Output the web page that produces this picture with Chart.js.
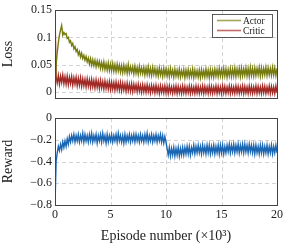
<!DOCTYPE html>
<html>
<head>
<meta charset="utf-8">
<script src="https://cdn.jsdelivr.net/npm/chart.js@4/dist/chart.umd.min.js"></script>
<style>
  html, body { margin: 0; padding: 0; background: #fff; }
  #wrap { position: relative; width: 288px; height: 248px; }
  #lossChart { position: absolute; left: 0; top: 0; }
  #rewardChart { position: absolute; left: 0; top: 108px; }
</style>
</head>
<body>
<div id="wrap">
  <canvas id="lossChart" width="288" height="108"></canvas>
  <canvas id="rewardChart" width="288" height="140"></canvas>
</div>
<script>
// samples every 100 episodes, 0 .. 20 (x10^3)
const sampleStep = 0.1;

const actorLoss = [
  0.002, 0.050, 0.072, 0.090, 0.104, 0.114, 0.122, 0.104, 0.109, 0.105,
  0.107, 0.098, 0.100, 0.091, 0.094, 0.085, 0.089, 0.079, 0.083, 0.074,
  0.078, 0.068, 0.074, 0.064, 0.071, 0.061, 0.067, 0.058, 0.065, 0.055,
  0.062, 0.051, 0.061, 0.049, 0.059, 0.048, 0.058, 0.046, 0.057, 0.047,
  0.056, 0.043, 0.054, 0.042, 0.055, 0.041, 0.052, 0.040, 0.053, 0.039,
  0.051, 0.039, 0.052, 0.038, 0.050, 0.037, 0.051, 0.038, 0.049, 0.036,
  0.048, 0.035, 0.049, 0.036, 0.047, 0.034, 0.050, 0.035, 0.046, 0.036,
  0.046, 0.033, 0.047, 0.034, 0.045, 0.032, 0.047, 0.034, 0.044, 0.033,
  0.045, 0.031, 0.044, 0.032, 0.046, 0.031, 0.043, 0.030, 0.045, 0.032,
  0.043, 0.030, 0.042, 0.029, 0.044, 0.031, 0.041, 0.028, 0.043, 0.030,
  0.042, 0.029, 0.041, 0.028, 0.043, 0.030, 0.040, 0.027, 0.042, 0.029,
  0.040, 0.028, 0.042, 0.027, 0.039, 0.029, 0.041, 0.026, 0.040, 0.028,
  0.041, 0.027, 0.039, 0.028, 0.042, 0.026, 0.040, 0.028, 0.039, 0.027,
  0.040, 0.026, 0.041, 0.028, 0.039, 0.027, 0.042, 0.028, 0.040, 0.026,
  0.041, 0.028, 0.040, 0.027, 0.042, 0.029, 0.041, 0.028, 0.043, 0.029,
  0.041, 0.028, 0.043, 0.029, 0.042, 0.027, 0.041, 0.029, 0.043, 0.028,
  0.042, 0.029, 0.044, 0.028, 0.042, 0.030, 0.043, 0.028, 0.044, 0.029,
  0.042, 0.030, 0.044, 0.029, 0.043, 0.028, 0.045, 0.030, 0.043, 0.029,
  0.044, 0.030, 0.043, 0.031, 0.045, 0.029, 0.044, 0.030, 0.043, 0.031,
  0.045, 0.030, 0.044, 0.031, 0.043, 0.030, 0.045, 0.031, 0.044, 0.030,
  0.043
];

const criticLoss = [
  0.150, 0.028, 0.016, 0.030, 0.014, 0.029, 0.017, 0.031, 0.015, 0.028,
  0.014, 0.029, 0.013, 0.027, 0.015, 0.028, 0.012, 0.026, 0.014, 0.027,
  0.011, 0.025, 0.012, 0.026, 0.010, 0.024, 0.011, 0.023, 0.009, 0.024,
  0.010, 0.022, 0.008, 0.023, 0.009, 0.021, 0.007, 0.022, 0.008, 0.020,
  0.006, 0.021, 0.007, 0.019, 0.005, 0.020, 0.006, 0.018, 0.005, 0.019,
  0.004, 0.018, 0.005, 0.017, 0.003, 0.018, 0.004, 0.016, 0.003, 0.017,
  0.002, 0.016, 0.003, 0.015, 0.001, 0.016, 0.002, 0.014, 0.001, 0.015,
  0.000, 0.014, 0.002, 0.013, 0.000, 0.014, 0.001, 0.012, -0.001, 0.013,
  0.000, 0.012, -0.001, 0.013, 0.000, 0.011, -0.002, 0.012, 0.000, 0.011,
  -0.002, 0.012, -0.001, 0.010, -0.003, 0.011, -0.001, 0.010, -0.002, 0.011,
  -0.002, 0.010, -0.003, 0.011, -0.001, 0.009, -0.003, 0.010, -0.002, 0.011,
  -0.003, 0.010, -0.002, 0.009, -0.003, 0.011, -0.002, 0.010, -0.003, 0.009,
  -0.002, 0.011, -0.003, 0.010, -0.002, 0.009, -0.003, 0.011, -0.002, 0.010,
  -0.003, 0.009, -0.002, 0.011, -0.003, 0.010, -0.002, 0.009, -0.003, 0.011,
  -0.002, 0.010, -0.003, 0.009, -0.002, 0.011, -0.003, 0.010, -0.002, 0.009,
  -0.003, 0.011, -0.002, 0.010, -0.003, 0.009, -0.002, 0.011, -0.003, 0.010,
  -0.002, 0.009, -0.003, 0.011, -0.002, 0.010, -0.003, 0.009, -0.002, 0.011,
  -0.003, 0.010, -0.002, 0.009, -0.003, 0.011, -0.002, 0.010, -0.003, 0.009,
  -0.002, 0.011, -0.003, 0.010, -0.002, 0.009, -0.003, 0.011, -0.002, 0.010,
  -0.003, 0.009, -0.002, 0.011, -0.003, 0.010, -0.002, 0.009, -0.003, 0.011,
  -0.002
];

const reward = [
  -0.80, -0.40, -0.32, -0.26, -0.30, -0.24, -0.29, -0.22, -0.27, -0.21,
  -0.26, -0.19, -0.24, -0.17, -0.22, -0.16, -0.21, -0.15, -0.22, -0.16,
  -0.21, -0.15, -0.22, -0.16, -0.21, -0.14, -0.22, -0.15, -0.21, -0.16,
  -0.22, -0.15, -0.21, -0.14, -0.22, -0.16, -0.21, -0.15, -0.23, -0.16,
  -0.21, -0.15, -0.22, -0.14, -0.21, -0.16, -0.23, -0.15, -0.22, -0.16,
  -0.21, -0.15, -0.22, -0.16, -0.21, -0.15, -0.22, -0.14, -0.21, -0.16,
  -0.22, -0.16, -0.23, -0.15, -0.22, -0.16, -0.21, -0.15, -0.22, -0.16,
  -0.21, -0.15, -0.22, -0.15, -0.21, -0.16, -0.22, -0.15, -0.21, -0.16,
  -0.22, -0.15, -0.21, -0.14, -0.22, -0.16, -0.21, -0.15, -0.22, -0.16,
  -0.21, -0.15, -0.22, -0.16, -0.21, -0.15, -0.22, -0.16, -0.23, -0.17,
  -0.22, -0.28, -0.34, -0.27, -0.35, -0.28, -0.34, -0.27, -0.35, -0.28,
  -0.34, -0.27, -0.35, -0.28, -0.34, -0.27, -0.34, -0.27, -0.33, -0.26,
  -0.33, -0.26, -0.34, -0.27, -0.32, -0.25, -0.33, -0.26, -0.32, -0.25,
  -0.32, -0.26, -0.33, -0.25, -0.32, -0.26, -0.33, -0.25, -0.32, -0.25,
  -0.33, -0.26, -0.32, -0.25, -0.33, -0.26, -0.32, -0.25, -0.33, -0.25,
  -0.32, -0.25, -0.33, -0.26, -0.32, -0.25, -0.31, -0.24, -0.32, -0.25,
  -0.31, -0.24, -0.32, -0.25, -0.31, -0.24, -0.32, -0.25, -0.31, -0.24,
  -0.32, -0.24, -0.31, -0.25, -0.32, -0.24, -0.31, -0.25, -0.32, -0.25,
  -0.33, -0.25, -0.32, -0.26, -0.33, -0.25, -0.32, -0.25, -0.33, -0.26,
  -0.32, -0.25, -0.33, -0.26, -0.32, -0.25, -0.33, -0.26, -0.32, -0.25,
  -0.32
];

const xTicks = [0, 5, 10, 15, 20];
const lossTicks = [0, 0.05, 0.1, 0.15];
const rewardTicks = [-0.8, -0.6, -0.4, -0.2, 0];

const seriesLabels = ['Actor', 'Critic'];
const FONT = "'Liberation Serif', 'DejaVu Serif', serif";
const gridColor = '#c8c8c8';
const frameColor = '#444';

const toPoints = arr => arr.map((v, i) => ({ x: +(i * sampleStep).toFixed(1), y: v }));
const fmt = v => String(v).replace('-', '\u2212');

// dashed grid drawn under the data, at the scales' tick positions
const dashGridPlugin = {
  id: 'dashGrid',
  beforeDatasetsDraw(chart) {
    const { ctx, chartArea: a, scales } = chart;
    ctx.save();
    ctx.strokeStyle = gridColor;
    ctx.lineWidth = 0.8;
    ctx.setLineDash([4, 3]);
    scales.x.ticks.forEach(t => {
      const px = Math.round(scales.x.getPixelForValue(t.value)) + 0.5;
      ctx.beginPath(); ctx.moveTo(px, a.top); ctx.lineTo(px, a.bottom); ctx.stroke();
    });
    scales.y.ticks.forEach(t => {
      const py = Math.round(scales.y.getPixelForValue(t.value)) + 0.5;
      ctx.beginPath(); ctx.moveTo(a.left, py); ctx.lineTo(a.right, py); ctx.stroke();
    });
    ctx.restore();
  }
};

// frame around plot area
const framePlugin = {
  id: 'frame',
  afterDraw(chart) {
    const { ctx, chartArea: a } = chart;
    ctx.save();
    ctx.strokeStyle = frameColor;
    ctx.lineWidth = 1;
    ctx.strokeRect(Math.round(a.left) + 0.5, Math.round(a.top) + 0.5,
      Math.round(a.right - a.left), Math.round(a.bottom - a.top));
    ctx.restore();
  }
};

// boxed legend inside the loss plot (top right)
const legendPlugin = {
  id: 'boxLegend',
  afterDraw(chart, args, opts) {
    if (!opts.show) return;
    const { ctx, chartArea: a } = chart;
    const w = 60, h = 23;
    const x0 = Math.round(a.right) - 5 - w, y0 = Math.round(a.top) + 4;
    ctx.save();
    ctx.fillStyle = '#fff';
    ctx.fillRect(x0, y0, w, h);
    ctx.strokeStyle = '#333';
    ctx.lineWidth = 0.8;
    ctx.strokeRect(x0 + 0.5, y0 + 0.5, w, h);
    ctx.font = '9.5px ' + FONT;
    ctx.textBaseline = 'middle';
    chart.data.datasets.forEach((ds, i) => {
      const y = y0 + 6.5 + i * 10;
      ctx.strokeStyle = ds.legendColor;
      ctx.lineWidth = 1.6;
      ctx.beginPath();
      ctx.moveTo(x0 + 5, y);
      ctx.lineTo(x0 + 29, y);
      ctx.stroke();
      ctx.fillStyle = '#222';
      ctx.fillText(ds.label, x0 + 31, y + 0.5);
    });
    ctx.restore();
  }
};

function yAxis(ticks, min, max, title) {
  return {
    type: 'linear', min, max,
    afterFit: s => { s.width = 55; },
    afterBuildTicks: s => { s.ticks = ticks.map(v => ({ value: v })); },
    grid: { display: false, drawTicks: false },
    border: { display: false },
    ticks: { color: '#222', padding: 3, font: { family: FONT, size: 12 }, callback: v => fmt(v) },
    title: { display: true, text: title, color: '#222', font: { family: FONT, size: 14 }, padding: { top: 0, bottom: 0 } }
  };
}

function xAxis(showTicks) {
  return {
    type: 'linear', min: 0, max: 20,
    afterBuildTicks: s => { s.ticks = xTicks.map(v => ({ value: v })); },
    afterFit: s => { if (!showTicks) s.height = 0; },
    grid: { display: false, drawTicks: false },
    border: { display: false },
    ticks: { display: showTicks, color: '#222', padding: 3, maxRotation: 0, font: { family: FONT, size: 12 } },
    title: {
      display: showTicks, text: 'Episode number (\u00d710\u00b3)', color: '#222',
      font: { family: FONT, size: 14 }, padding: { top: 3, bottom: 0 }
    }
  };
}

const common = {
  responsive: false,
  animation: false,
  events: [],
  elements: { point: { radius: 0 }, line: { borderWidth: 1.4, tension: 0 } },
  plugins: { legend: { display: false }, tooltip: { enabled: false } }
};

new Chart(document.getElementById('lossChart'), {
  type: 'line',
  data: {
    datasets: [
      { label: seriesLabels[0], data: toPoints(actorLoss), borderColor: '#767b10', legendColor: '#a3a65a' },
      { label: seriesLabels[1], data: toPoints(criticLoss), borderColor: '#a22a26', legendColor: '#c56a67' }
    ]
  },
  options: {
    ...common,
    layout: { padding: { left: 0, right: 11, top: 8, bottom: 5 } },
    scales: { x: xAxis(false), y: yAxis(lossTicks, -0.011, 0.15, 'Loss') },
    plugins: { ...common.plugins, boxLegend: { show: true } }
  },
  plugins: [dashGridPlugin, framePlugin, legendPlugin]
});

new Chart(document.getElementById('rewardChart'), {
  type: 'line',
  data: {
    datasets: [
      { label: 'Reward', data: toPoints(reward), borderColor: '#1a66b2' }
    ]
  },
  options: {
    ...common,
    layout: { padding: { left: 0, right: 11, top: 5, bottom: 3 } },
    scales: { x: xAxis(true), y: yAxis(rewardTicks, -0.8, 0, 'Reward') },
    plugins: { ...common.plugins, boxLegend: { show: false } }
  },
  plugins: [dashGridPlugin, framePlugin, legendPlugin]
});
</script>
</body>
</html>
